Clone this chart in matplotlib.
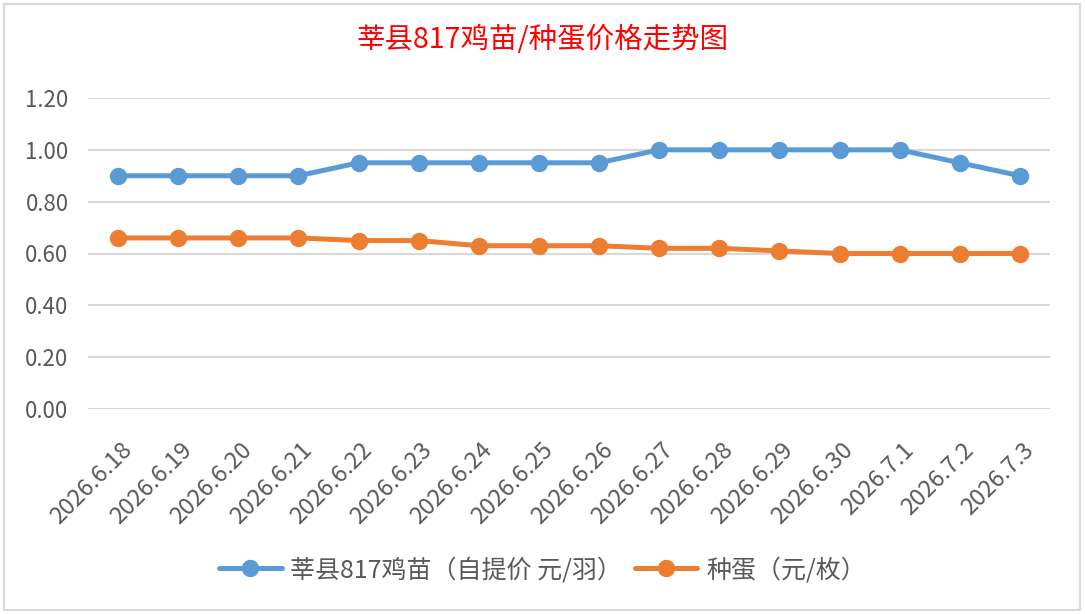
import matplotlib
matplotlib.use("Agg")
import matplotlib.pyplot as plt
from matplotlib.patches import Rectangle
from matplotlib.transforms import ScaledTranslation

plt.rcParams['font.family'] = ['Noto Sans CJK SC', 'DejaVu Sans']

# data
dates = ["2026.6.18", "2026.6.19", "2026.6.20", "2026.6.21", "2026.6.22",
         "2026.6.23", "2026.6.24", "2026.6.25", "2026.6.26", "2026.6.27",
         "2026.6.28", "2026.6.29", "2026.6.30", "2026.7.1", "2026.7.2", "2026.7.3"]
chick = [0.90, 0.90, 0.90, 0.90, 0.95, 0.95, 0.95, 0.95, 0.95,
         1.00, 1.00, 1.00, 1.00, 1.00, 0.95, 0.90]
egg = [0.66, 0.66, 0.66, 0.66, 0.65, 0.65, 0.63, 0.63, 0.63,
       0.62, 0.62, 0.61, 0.60, 0.60, 0.60, 0.60]
yticks = [0.0, 0.2, 0.4, 0.6, 0.8, 1.0, 1.2]

BLUE = "#5B9BD5"
ORANGE = "#ED7D31"
GREY = "#595959"

fig = plt.figure(figsize=(10.85, 6.14), dpi=100)
ax = fig.add_axes([88 / 1085, 1 - 409 / 614, 962 / 1085, 311 / 614])

x = list(range(len(dates)))
ax.plot(x, chick, color=BLUE, lw=3.6, marker="o", ms=11.5,
        label="莘县817鸡苗（自提价 元/羽）", solid_capstyle="round", zorder=3)
ax.plot(x, egg, color=ORANGE, lw=3.6, marker="o", ms=11.5,
        label="种蛋（元/枚）", solid_capstyle="round", zorder=3)

ax.set_xlim(-0.5, len(dates) - 0.5)
ax.set_ylim(0, 1.2)
ax.set_yticks(yticks)
ax.set_yticklabels([f"{v:.2f}" for v in yticks])
ax.set_xticks(x)
ax.set_xticklabels(dates, rotation=45, ha="right", rotation_mode="anchor")
ax.tick_params(axis="both", length=0, colors=GREY)
ax.tick_params(axis="y", pad=14, labelsize=16)
ax.tick_params(axis="x", pad=21, labelsize=17)
# small nudge of the slanted date labels
shift = ScaledTranslation(2 / 100, 0, fig.dpi_scale_trans)
for lbl in ax.get_xticklabels():
    lbl.set_transform(lbl.get_transform() + shift)
ax.grid(axis="y", color="#D9D9D9", lw=1.5)
ax.set_axisbelow(True)
for s in ax.spines.values():
    s.set_visible(False)

fig.text(0.5, 1 - 40 / 614, "莘县817鸡苗/种蛋价格走势图", color="red",
         fontsize=20.5, fontweight="medium", ha="center", va="center")

leg = fig.legend(loc="center", bbox_to_anchor=(0.5, 1 - 570 / 614), ncol=2,
                 frameon=False, fontsize=18, handlelength=2.5,
                 columnspacing=0.5, handletextpad=0.35)
for t in leg.get_texts():
    t.set_color(GREY)

fig.patches.append(Rectangle((4 / 1085, 4 / 614), 1076 / 1085, 606 / 614,
                             transform=fig.transFigure, fill=False,
                             edgecolor="#D9D9D9", lw=1.5))

fig.savefig("out.png", dpi=100, facecolor="white")
